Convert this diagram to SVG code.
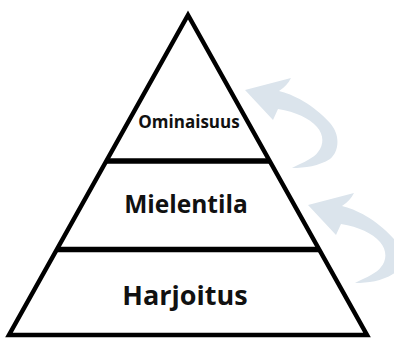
<svg xmlns="http://www.w3.org/2000/svg" xmlns:xlink="http://www.w3.org/1999/xlink" width="394" height="338" viewBox="0 0 394 338">
  <style>
    .edge { fill: #ffffff; stroke: #000000; stroke-width: 4.5; stroke-linejoin: miter; }
    .divider { stroke: #000000; stroke-width: 5.5; }
    .label { font-family: "Open Sans", "Liberation Sans", sans-serif; font-weight: 700; fill: #111111; text-anchor: middle; }
    .arrow { fill: #dbe4ec; }
  </style>
  <defs>
    <path id="curlArrow" class="arrow" d="M245,90 L291,78 Q287,86 279,91 C292,94 313,104 330,123 C340,134 340,151 330,159 C319,166 305,168 292,168 C304,162 314,158 318,152 C324,145 324,135 317,127 C309,118 296,112 278,109 L273,120 Z"/>
  </defs>
  <rect width="394" height="338" fill="#ffffff"/>
  <g id="pyramid">
    <polygon class="edge" points="188,15 9,335 367,335"/>
  </g>
  <g id="connectors">
    <use xlink:href="#curlArrow"/>
    <use xlink:href="#curlArrow" transform="translate(63,115)"/>
  </g>
  <g id="layer-ominaisuus">
    <text class="label" x="189" y="128" font-size="17">Ominaisuus</text>
  </g>
  <g id="layer-mielentila">
    <line class="divider" x1="106" y1="161" x2="270" y2="161"/>
    <text class="label" x="186" y="213" font-size="24.5">Mielentila</text>
  </g>
  <g id="layer-harjoitus">
    <line class="divider" x1="56" y1="249.5" x2="320" y2="249.5"/>
    <text class="label" x="185" y="305" font-size="27">Harjoitus</text>
  </g>
</svg>
